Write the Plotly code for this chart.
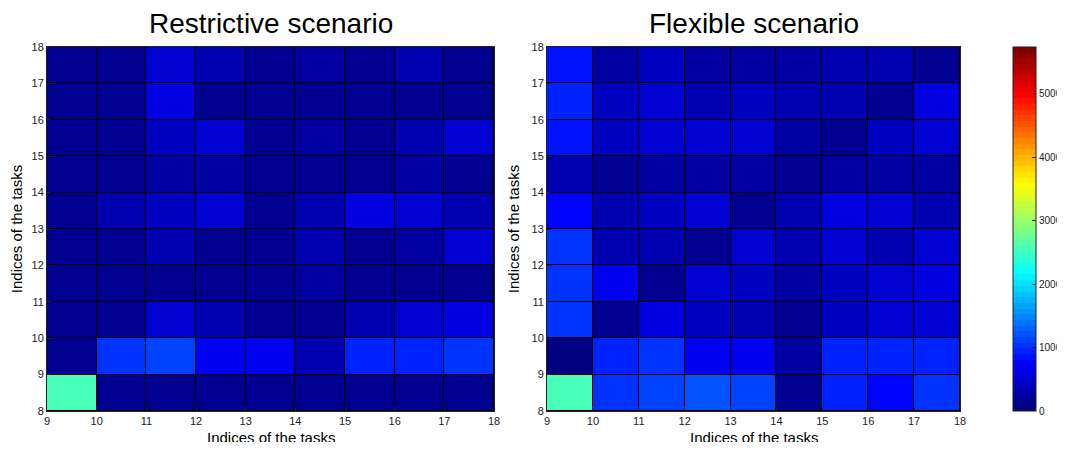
import plotly.graph_objects as go

x_edges = [9, 10, 11, 12, 13, 14, 15, 16, 17, 18]
y_edges = [8, 9, 10, 11, 12, 13, 14, 15, 16, 17, 18]
tick_x = [9, 10, 11, 12, 13, 14, 15, 16, 17, 18]
tick_y = [8, 9, 10, 11, 12, 13, 14, 15, 16, 17, 18]
cbar_ticks = [0, 1000, 2000, 3000, 4000, 5000]

# rows bottom (8-9) to top (17-18); columns 9-10 ... 17-18
restrictive = [
    [2600, 90, 90, 90, 90, 90, 90, 90, 90],
    [100, 1000, 1150, 650, 640, 280, 970, 930, 1000],
    [100, 120, 500, 350, 150, 120, 350, 500, 550],
    [100, 100, 120, 120, 100, 200, 120, 100, 100],
    [120, 120, 300, 100, 100, 300, 120, 250, 450],
    [120, 350, 400, 450, 120, 300, 550, 450, 350],
    [100, 120, 180, 200, 120, 120, 150, 200, 150],
    [100, 120, 400, 500, 120, 250, 150, 350, 450],
    [100, 120, 600, 120, 120, 150, 150, 120, 120],
    [100, 120, 450, 300, 120, 250, 150, 350, 150],
]
flexible = [
    [2600, 1000, 1150, 1200, 1150, 150, 900, 800, 1000],
    [80, 950, 1050, 650, 650, 200, 900, 900, 950],
    [1050, 150, 550, 400, 350, 100, 400, 500, 500],
    [1050, 650, 120, 450, 400, 250, 400, 500, 600],
    [1000, 300, 350, 100, 500, 350, 500, 350, 450],
    [750, 350, 400, 450, 150, 350, 550, 450, 350],
    [300, 150, 200, 250, 250, 150, 250, 250, 200],
    [850, 400, 450, 500, 500, 250, 100, 400, 450],
    [950, 400, 500, 300, 400, 300, 350, 150, 600],
    [850, 250, 400, 250, 250, 200, 300, 350, 100],
]
zmin, zmax = 0, 5740
axis_title = "Indices of the tasks"


def jet(t):
    c = lambda v: max(0.0, min(1.0, v))
    r = c(1.5 - abs(4 * t - 3))
    g = c(1.5 - abs(4 * t - 2))
    b = c(1.5 - abs(4 * t - 1))
    return f"rgb({round(r*255)},{round(g*255)},{round(b*255)})"


n = 64
scale = []
for i in range(n):
    col = jet(i / (n - 1))
    scale.append([i / n, col])
    scale.append([(i + 1) / n, col])

# page body has an 8px margin; work in reference-pixel coordinates
OFF = 8
W, H = 1065 - OFF, 450 - 2 * OFF
def fx(x):
    return (x - OFF) / W
def fy(y):
    return 1 - (y - OFF) / H

top, bot = 47, 411
ydom = [fy(bot), fy(top)]

fig = go.Figure()
fig.add_trace(go.Heatmap(z=restrictive, x=x_edges, y=y_edges, coloraxis="coloraxis",
                         xgap=1, ygap=1, xaxis="x", yaxis="y"))
fig.add_trace(go.Heatmap(z=flexible, x=x_edges, y=y_edges, coloraxis="coloraxis",
                         xgap=1, ygap=1, xaxis="x2", yaxis="y2"))

font = "Liberation Sans, Arial, sans-serif"
axis_common = dict(showline=True, linecolor="#222", linewidth=1, mirror=True,
                   ticks="inside", ticklen=4, tickcolor="#222", showgrid=False, zeroline=False,
                   automargin=False,
                   tickfont=dict(family=font, size=11, color="#222"))

fig.update_layout(
    width=W, height=H,
    margin=dict(l=0, r=0, t=0, b=0, autoexpand=False),
    paper_bgcolor="white",
    plot_bgcolor="black",
    font=dict(family=font, color="black"),
    showlegend=False,
    xaxis=dict(domain=[fx(47), fx(494)], range=[9, 18], tickvals=tick_x, anchor="y", **axis_common),
    yaxis=dict(domain=ydom, range=[8, 18], tickvals=tick_y, anchor="x",
               title=dict(text=axis_title, font=dict(size=15), standoff=8), **axis_common),
    xaxis2=dict(domain=[fx(547), fx(960)], range=[9, 18], tickvals=tick_x, anchor="y2", **axis_common),
    yaxis2=dict(domain=ydom, range=[8, 18], tickvals=tick_y, anchor="x2",
                title=dict(text=axis_title, font=dict(size=15), standoff=8), **axis_common),
    coloraxis=dict(colorscale=scale, cmin=zmin, cmax=zmax,
                   colorbar=dict(x=fx(1013), xanchor="left", xpad=0, ypad=0,
                                 y=fy((top + bot) / 2), yanchor="middle",
                                 len=(bot - top) / H, lenmode="fraction",
                                 thickness=23, thicknessmode="pixels",
                                 outlinecolor="#222", outlinewidth=1,
                                 tickvals=cbar_ticks, ticks="inside", ticklen=4,
                                 tickcolor="#222", ticklabeloverflow="allow",
                                 tickfont=dict(family=font, size=10, color="#222"))),
    annotations=[
        dict(text="Restrictive scenario", x=fx((47 + 494) / 2), y=fy(24), xref="paper", yref="paper",
             showarrow=False, font=dict(family=font, size=28, color="black"), xanchor="center", yanchor="middle"),
        dict(text="Flexible scenario", x=fx((547 + 960) / 2), y=fy(24), xref="paper", yref="paper",
             showarrow=False, font=dict(family=font, size=28, color="black"), xanchor="center", yanchor="middle"),
        dict(text=axis_title, x=fx((47 + 494) / 2), y=fy(437), xref="paper", yref="paper",
             showarrow=False, font=dict(family=font, size=15, color="black"), xanchor="center", yanchor="middle",
             borderpad=0),
        dict(text=axis_title, x=fx((547 + 960) / 2), y=fy(437), xref="paper", yref="paper",
             showarrow=False, font=dict(family=font, size=15, color="black"), xanchor="center", yanchor="middle",
             borderpad=0),
    ],
)

fig.write_html("out.html")
